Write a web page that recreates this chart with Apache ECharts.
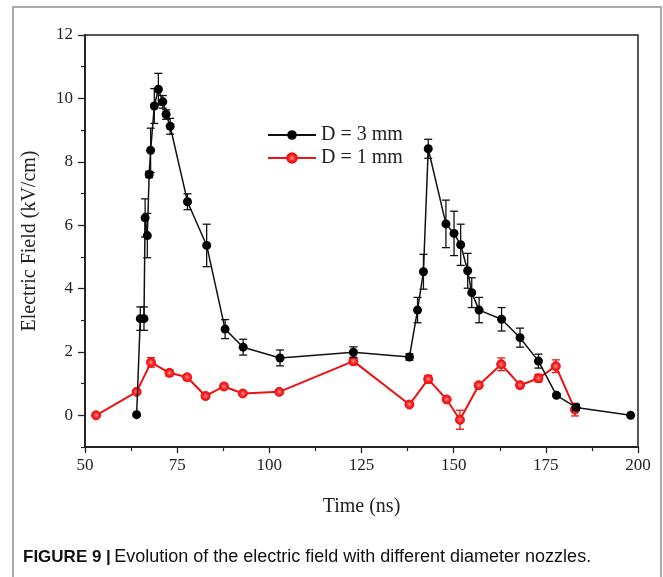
<!DOCTYPE html>
<html>
<head>
<meta charset="utf-8">
<script src="https://cdn.jsdelivr.net/npm/echarts@6/dist/echarts.min.js"></script>
<style>
html,body{margin:0;padding:0;background:#fff;}
#chart{width:663px;height:577px;}
</style>
</head>
<body>
<div id="chart"></div>
<script>
// D = 3 mm (black)
const time3  = [64, 65, 66, 66.3, 66.9, 67.4, 67.8, 68.8, 69.9, 71.1, 72.0, 73.1, 77.8, 83.0, 88.0, 92.9, 102.9, 122.8, 138.0, 140.2, 141.8, 143.1, 147.9, 150.1, 151.9, 153.8, 154.9, 156.9, 163.0, 168.0, 173.0, 177.9, 183.2, 198.0];
const field3 = [0.02, 3.05, 3.05, 6.23, 5.67, 7.6, 8.36, 9.76, 10.29, 9.89, 9.49, 9.12, 6.74, 5.36, 2.72, 2.15, 1.81, 1.99, 1.84, 3.32, 4.53, 8.41, 6.04, 5.74, 5.38, 4.56, 3.87, 3.32, 3.03, 2.45, 1.71, 0.63, 0.25, 0.0];
const err3   = [0, 0.37, 0.37, 0.6, 0.7, 0.1, 0.7, 0.55, 0.5, 0.2, 0.15, 0.25, 0.25, 0.67, 0.3, 0.25, 0.25, 0.17, 0.1, 0.4, 0.55, 0.3, 0.75, 0.7, 0.65, 0.55, 0.47, 0.4, 0.37, 0.3, 0.22, 0.05, 0.1, 0];
// D = 1 mm (red)
const time1  = [53, 64, 67.9, 72.9, 77.7, 82.7, 87.7, 92.8, 102.7, 122.8, 138.0, 143.1, 148.1, 151.7, 156.8, 162.9, 168.0, 173.0, 177.7, 182.9];
const field1 = [0, 0.74, 1.67, 1.34, 1.2, 0.61, 0.91, 0.69, 0.74, 1.71, 0.34, 1.14, 0.5, -0.14, 0.95, 1.61, 0.95, 1.17, 1.55, 0.18];
const err1   = [0, 0.05, 0.15, 0.1, 0.08, 0.08, 0.08, 0.06, 0.06, 0.12, 0.05, 0.12, 0.05, 0.3, 0.08, 0.2, 0.08, 0.12, 0.2, 0.2];
const yTickLabels = [0, 2, 4, 6, 8, 10, 12];
const yMinorTicks = [-1, 1, 3, 5, 7, 9, 11];

const serif = '"Liberation Serif", "Times New Roman", serif';
const sans = '"Liberation Sans", Arial, sans-serif';

function errSeries(t, f, e, color, z) {
  const data = [];
  t.forEach((x, i) => { if (e[i] > 0) data.push([x, f[i] - e[i], f[i] + e[i]]); });
  return {
    type: 'custom', data: data, z: z, silent: true,
    encode: { x: 0, y: [1, 2] },
    renderItem: function (params, api) {
      const x = api.value(0);
      const lo = api.coord([x, api.value(1)]);
      const hi = api.coord([x, api.value(2)]);
      const w = 4;
      const st = { stroke: color, lineWidth: 1.3 };
      return { type: 'group', children: [
        { type: 'line', shape: { x1: lo[0], y1: lo[1], x2: hi[0], y2: hi[1] }, style: st },
        { type: 'line', shape: { x1: lo[0] - w, y1: lo[1], x2: lo[0] + w, y2: lo[1] }, style: st },
        { type: 'line', shape: { x1: hi[0] - w, y1: hi[1], x2: hi[0] + w, y2: hi[1] }, style: st }
      ]};
    }
  };
}

const chart = echarts.init(document.getElementById('chart'), null, { renderer: 'canvas' });
const redFill = new echarts.graphic.RadialGradient(0.5, 0.5, 0.5, [
  { offset: 0, color: '#ff9a9a' }, { offset: 0.45, color: '#ff3030' }, { offset: 1, color: '#ee0000' }
]);
chart.setOption({
  animation: false,
  backgroundColor: '#fff',
  grid: { left: 85, right: 25, top: 35, bottom: 130, show: true, borderColor: '#222', borderWidth: 1.5, backgroundColor: 'transparent' },
  legend: {
    orient: 'vertical', left: 262, top: 120, itemWidth: 48, itemHeight: 12, itemGap: 3,
    textStyle: { fontFamily: serif, fontSize: 20, color: '#222' },
    data: ['D = 3 mm', 'D = 1 mm']
  },
  xAxis: {
    type: 'value', min: 50, max: 200, interval: 25,
    name: 'Time (ns)', nameLocation: 'middle', nameGap: 50,
    nameTextStyle: { fontFamily: serif, fontSize: 20, color: '#222' },
    axisLine: { onZero: false, lineStyle: { color: '#222', width: 1.8 } },
    axisTick: { length: 6, lineStyle: { color: '#222', width: 1.3 } },
    minorTick: { show: true, splitNumber: 2, length: 4, lineStyle: { color: '#222', width: 1.2 } },
    axisLabel: { fontFamily: serif, fontSize: 17, color: '#222', margin: 10 },
    splitLine: { show: false }
  },
  yAxis: [{
    type: 'value', min: -1, max: 12,
    name: 'Electric Field (kV/cm)', nameLocation: 'middle', nameGap: 45,
    nameTextStyle: { fontFamily: serif, fontSize: 20, color: '#222' },
    axisLine: { onZero: false, lineStyle: { color: '#222', width: 1.8 } },
    axisTick: { length: 7, customValues: yTickLabels, lineStyle: { color: '#222', width: 1.3 } },
    axisLabel: { fontFamily: serif, fontSize: 17, color: '#222', margin: 12, customValues: yTickLabels },
    splitLine: { show: false }
  }, {
    type: 'value', min: -1, max: 12, position: 'left',
    axisLine: { show: false },
    axisTick: { length: 4, customValues: yMinorTicks, lineStyle: { color: '#222', width: 1.2 } },
    axisLabel: { show: false },
    splitLine: { show: false }
  }],
  graphic: [
    { type: 'rect', shape: { x: 13, y: 7, width: 648, height: 620 }, style: { fill: 'none', stroke: '#aaaaaa', lineWidth: 2 }, z: 100, silent: true },
    { type: 'text', left: 23, top: 548, z: 100, silent: true,
      style: {
        text: '{b|FIGURE 9 |} {n|Evolution of the electric field with different diameter nozzles.}',
        rich: {
          b: { fontFamily: sans, fontWeight: 'bold', fontSize: 17, fill: '#111' },
          n: { fontFamily: sans, fontSize: 18, fill: '#111' }
        }
      }
    }
  ],
  series: [
    errSeries(time1, field1, err1, '#ee1111', 3),
    {
      name: 'D = 1 mm', type: 'line', z: 4,
      data: time1.map((x, i) => [x, field1[i]]),
      symbol: 'circle', symbolSize: 9,
      lineStyle: { color: '#ee1111', width: 2 },
      itemStyle: { color: redFill, borderColor: '#ee1111', borderWidth: 1 }
    },
    errSeries(time3, field3, err3, '#111', 5),
    {
      name: 'D = 3 mm', type: 'line', z: 6,
      data: time3.map((x, i) => [x, field3[i]]),
      symbol: 'circle', symbolSize: 9,
      lineStyle: { color: '#111', width: 1.5 },
      itemStyle: { color: '#000' }
    }
  ]
});
</script>
</body>
</html>
